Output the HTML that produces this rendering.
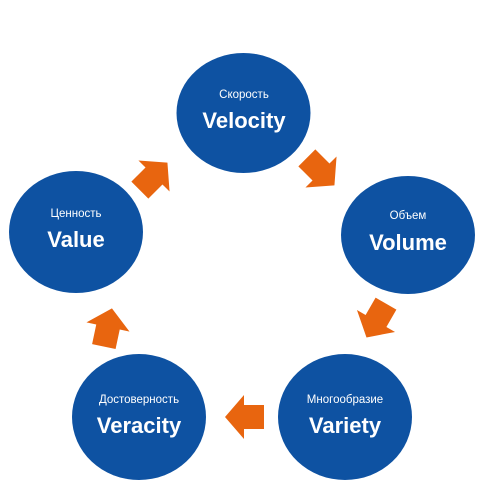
<!DOCTYPE html>
<html><head><meta charset="utf-8"><style>
html,body{margin:0;padding:0;background:#fff;}
svg{display:block;font-family:"Liberation Sans","DejaVu Sans",sans-serif;}
.s{font-size:11.5px;fill:#fff;text-anchor:middle;}
.b{font-size:22px;font-weight:bold;fill:#fff;text-anchor:middle;}
</style></head><body>
<svg width="482" height="498" viewBox="0 0 482 498" xmlns="http://www.w3.org/2000/svg">
<defs>
<path id="ar" d="M-20,-12 L0,-12 L0,-22 L19,0 L0,22 L0,12 L-20,12 Z" fill="#e8650f"/>
</defs>
<g fill="#0e52a2">
<ellipse cx="243.5" cy="113" rx="67" ry="60"/>
<ellipse cx="408" cy="235" rx="67" ry="59"/>
<ellipse cx="345" cy="417" rx="67" ry="63"/>
<ellipse cx="139" cy="417" rx="67" ry="63"/>
<ellipse cx="76" cy="232" rx="67" ry="61"/>
</g>
<text class="s" x="244" y="98">Скорость</text><text class="b" x="244" y="128">Velocity</text>
<text class="s" x="408" y="219">Объем</text><text class="b" x="408" y="250">Volume</text>
<text class="s" x="345" y="403">Многообразие</text><text class="b" x="345" y="433">Variety</text>
<text class="s" x="139" y="403">Достоверность</text><text class="b" x="139" y="433">Veracity</text>
<text class="s" x="76" y="217">Ценность</text><text class="b" x="76" y="247">Value</text>
<use href="#ar" transform="translate(244,417) rotate(180)"/>
<use href="#ar" transform="translate(108,327) rotate(-78)"/>
<use href="#ar" transform="translate(154,176) rotate(-45)"/>
<use href="#ar" transform="translate(321,172) rotate(45)"/>
<use href="#ar" transform="translate(376,321) rotate(120)"/>
</svg>
</body></html>
